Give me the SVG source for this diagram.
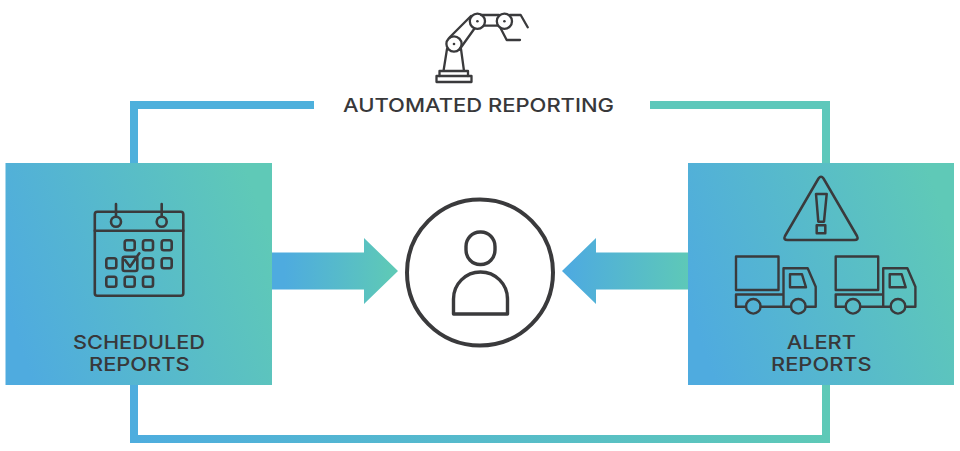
<svg xmlns="http://www.w3.org/2000/svg" width="960" height="451" viewBox="0 0 960 451">
<style>
.ic{fill:none;stroke:#3a3a3c;stroke-linejoin:round;stroke-linecap:round}
.t{font-family:"Inter","Liberation Sans",sans-serif;font-weight:500;font-size:19.3px;fill:#38383a}
.c{fill:none;stroke-width:8}
</style>
<defs>
<linearGradient id="g1" x1="0" y1="0.65" x2="1" y2="0.35"><stop offset="0" stop-color="#4fabdf"/><stop offset="1" stop-color="#5fc9b7"/></linearGradient>
<linearGradient id="ga" x1="0" y1="0" x2="1" y2="0"><stop offset="0.1" stop-color="#4eabdf"/><stop offset="0.95" stop-color="#5ec9b7"/></linearGradient>
<linearGradient id="gb" gradientUnits="userSpaceOnUse" x1="134" y1="0" x2="827" y2="0"><stop offset="0" stop-color="#4eadde"/><stop offset="1" stop-color="#5ec9b7"/></linearGradient>
<linearGradient id="gl" gradientUnits="userSpaceOnUse" x1="690" y1="0" x2="570" y2="0"><stop offset="0" stop-color="#5ec9b7"/><stop offset="1" stop-color="#4eabdf"/></linearGradient>
<g id="truck" class="ic" stroke-width="2.4">
<rect x="736" y="256.5" width="42.5" height="33.5"/>
<path d="M746 306.7H736V294.5H783.5M760.7 306.7H791M805.7 306.7H815.7V286.7L807.7 268.3H783.5V306.7"/>
<path d="M790 274.3H802L806 287.3H790Z"/>
<circle cx="753.3" cy="306.3" r="7.3"/>
<circle cx="798.3" cy="306.3" r="7.3"/>
</g>
<rect id="sq" x="-5" y="-5" width="10" height="10" rx="2.2"/>
</defs>
<rect width="960" height="451" fill="#fff"/>

<g id="connectors">
<path class="c" stroke="#4eb0dc" d="M134 163V105H314"/>
<path class="c" stroke="#5ec8bb" d="M650 105H826V163"/>
<path class="c" stroke="url(#gb)" d="M134 385V439H826V385"/>
<path id="arrow-left" fill="url(#ga)" d="M272 252.5H364V238L398 271L364 304V289.5H272Z"/>
<path id="arrow-right" fill="url(#gl)" d="M688 252.5H596V238L562 271L596 304V289.5H688Z"/>
</g>

<g id="automated-reporting">
<g class="ic" stroke-width="2.3">
<rect x="436.5" y="76" width="35" height="6"/>
<path d="M439.5 76V71H468V76M443.5 71L447 49M464 71L461 49"/>
<circle cx="454" cy="44" r="7.6"/>
<circle cx="477.4" cy="21.3" r="7.6"/>
<circle cx="504.4" cy="21.3" r="7.6"/>
<path d="M449.5 37.5L471 16M459.5 49.5L474.5 28.5M481 15H499M484 25.7H498M510 15H520.7L527.7 27.3M500.5 28L506.7 40H520"/>
</g>
<g fill="#3a3a3c"><circle cx="454" cy="44" r="1.3"/><circle cx="477.4" cy="21.3" r="1.3"/><circle cx="504.4" cy="21.3" r="1.3"/></g>
<text class="t" x="343" y="111.7" textLength="271" lengthAdjust="spacingAndGlyphs">AUTOMATED REPORTING</text>
</g>

<g id="scheduled-reports">
<rect x="5.5" y="163" width="266.5" height="222" fill="url(#g1)"/>
<g class="ic" stroke-width="2.6">
<rect x="94.8" y="211.7" width="88.5" height="84" rx="2.5"/>
<path d="M94.8 230.7H183.3M116 204V216.5M161.7 204V216.5"/>
<circle cx="116" cy="221.7" r="5"/>
<circle cx="161.7" cy="221.7" r="5"/>
<use href="#sq" x="129.7" y="245.3"/><use href="#sq" x="148" y="245.3"/><use href="#sq" x="166.7" y="245.3"/>
<use href="#sq" x="111.3" y="263.3"/><use href="#sq" x="148" y="263.3"/><use href="#sq" x="166.7" y="263.3"/>
<use href="#sq" x="111.3" y="281.7"/><use href="#sq" x="129.7" y="281.7"/><use href="#sq" x="148" y="281.7"/>
<rect x="122.7" y="256.7" width="14.6" height="14.3" rx="2"/>
<path d="M125 260L130 266.7L139.3 253.3"/>
</g>
<text class="t" x="73" y="349.3" textLength="132" lengthAdjust="spacingAndGlyphs">SCHEDULED</text>
<text class="t" x="89" y="371" textLength="100.5" lengthAdjust="spacingAndGlyphs">REPORTS</text>
</g>

<g id="user">
<circle cx="480" cy="272.5" r="73" fill="#fff" stroke="#3a3a3c" stroke-width="4"/>
<g class="ic" stroke-width="3.4" stroke-linecap="butt">
<rect x="466" y="232" width="29" height="32.5" rx="14" ry="14.5"/>
<path d="M453.5 314V299A27 27 0 0 1 507.5 299V314Z"/>
</g>
</g>

<g id="alert-reports">
<rect x="688" y="163" width="266" height="222" fill="url(#g1)"/>
<g class="ic" stroke-width="2.5">
<path d="M818.5 178.5Q821 175 823.5 178.5L857 236Q859 240 854.5 240H787.5Q783 240 785 236Z"/>
<path d="M816 194H826.7L824 221.7H818.3Z"/>
<rect x="816.7" y="225.3" width="8.6" height="8"/>
</g>
<use href="#truck"/>
<use href="#truck" x="99.7"/>
<text class="t" x="786.7" y="349.3" textLength="69.3" lengthAdjust="spacingAndGlyphs">ALERT</text>
<text class="t" x="771" y="371" textLength="100.7" lengthAdjust="spacingAndGlyphs">REPORTS</text>
</g>
</svg>
